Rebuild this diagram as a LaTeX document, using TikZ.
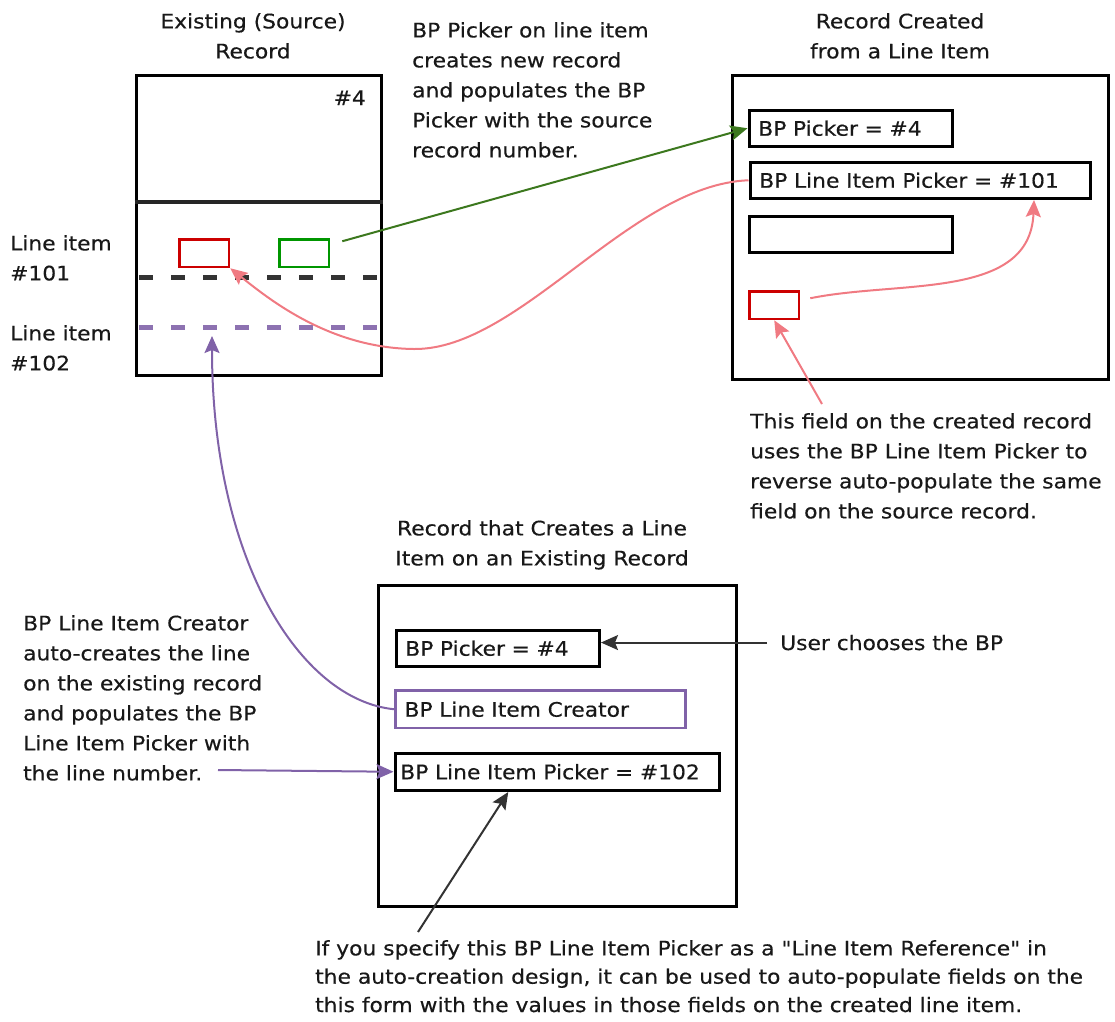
\documentclass[tikz,border=0pt]{standalone}
\usepackage{fontspec}
\newfontfamily\diafont[FakeStretch=1.09, FakeBold=0.4]{DejaVu Sans}
\usepackage{tikz}
\usetikzlibrary{arrows.meta, positioning}

\definecolor{pinkline}{RGB}{240,122,130}
\definecolor{purpleline}{RGB}{128,98,168}
\definecolor{greenbox}{RGB}{0,150,0}
\definecolor{greenline}{RGB}{60,120,30}
\definecolor{redbox}{RGB}{204,0,0}
\definecolor{textgray}{RGB}{24,24,24}
\definecolor{arrowgray}{RGB}{51,51,51}

\tikzset{
  record/.style={draw, line width=3.5pt, anchor=north west, inner sep=0pt},
  field/.style={draw, line width=3.5pt, anchor=north west, inner xsep=9pt, inner ysep=0pt,
    minimum height=36pt, align=left, text width=#1},
  tag/.style={draw=redbox, line width=2.5pt, anchor=north west, inner sep=0pt,
    minimum width=49.5pt, minimum height=27.5pt},
  note/.style={align=left, anchor=north west, inner sep=0pt},
  title/.style={align=center, anchor=north, inner sep=0pt},
  linkline/.style={line width=2pt, ->},
}

\begin{document}
\begin{tikzpicture}[x=1pt, y=-1pt, font=\diafont\fontsize{20}{30}\selectfont, text=textgray,
    >={Stealth[length=17pt, width=15pt, inset=3pt]}]
  \useasboundingbox (0,0) rectangle (1115,1021);

  %既存レコード
  \node[title] (srctitle) at (253,13) {Existing (Source)\\Record};
  \node[record, minimum width=245pt, minimum height=300pt] (src) at (134.5,73.5) {};
  \draw[line width=3.5pt, black!85] (src.west |- 0,202) -- (src.east |- 0,202);
  \node[anchor=base east, inner sep=0pt] (srcno) at (366,105) {\#4};
  \node[tag] (srcref) at (178.25,238.25) {};
  \node[tag, draw=greenbox] (srcpick) at (278.25,238.25) {};
  \draw[line width=5pt, black!80, dash pattern=on 14pt off 18pt] (139,277) -- (377,277); %点線
  \draw[line width=5pt, purpleline!90, dash pattern=on 14pt off 18pt] (139,327) -- (377,327);
  \coordinate (line102) at (212,336);
  \node[note] (li101) at (10,235) {Line item\\\#101};
  \node[note] (li102) at (10,325) {Line item\\\#102};

  %作成されたレコード
  \node[title] (newtitle) at (900,13) {Record Created\\from a Line Item};
  \node[record, minimum width=376pt, minimum height=304pt] (new) at (730.5,73.5) {};
  \node[field=185pt] (rpick) at (747.5,108.5) {BP Picker = \#4};
  \node[field=322pt] (rline) at (748.5,160.5) {BP Line Item Picker = \#101};
  \node[field=185pt] (rblank) at (747.5,214.5) {};
  \node[tag] (rtag) at (748.25,290.25) {};

  %明細を作成するレコード
  \node[title] (crtitle) at (542,520) {Record that Creates a Line\\Item on an Existing Record};
  \node[record, minimum width=358pt, minimum height=321pt] (cr) at (376.5,583.5) {};
  \node[field=185pt] (bpick) at (394.5,628.5) {BP Picker = \#4};
  \node[field=272pt, draw=purpleline, line width=2.5pt, minimum height=37.5pt] (bcreator) at (394.25,689.25) {BP Line Item Creator};
  \node[field=314pt, inner xsep=5pt, minimum height=37pt] (bline) at (393.5,751.5) {BP Line Item Picker = \#102};

  %説明
  \node[note] (topnote) at (412,22) {BP Picker on line item\\creates new record\\and populates the BP\\Picker with the source\\record number.};
  \node[note] (rnote) at (750,413) {This field on the created record\\uses the BP Line Item Picker to\\reverse auto-populate the same\\field on the source record.};
  \node[note] (lnote) at (23,615) {BP Line Item Creator\\auto-creates the line\\on the existing record\\and populates the BP\\Line Item Picker with\\the line number.};
  \node[anchor=base west, inner sep=0pt] (user) at (780,650) {User chooses the BP};
  \node[note, font=\diafont\fontsize{20}{28.3}\selectfont] (bnote) at (315,940) {If you specify this BP Line Item Picker as a "Line Item Reference" in\\the auto-creation design, it can be used to auto-populate fields on the\\this form with the values in those fields on the created line item.};
  \coordinate (rnotetop) at (822,404);
  \coordinate (lnoteend) at (218,770);
  \coordinate (bnotetop) at (418,932);

  %矢印
  \draw[linkline, greenline] ([xshift=12pt, yshift=12pt]srcpick.east) -- (rpick.west);
  \draw[linkline, pinkline] (rline.west) .. controls (630,185) and (520,350) .. (414,349)
    .. controls (330,348) and (270,300) .. (srcref.south east);
  \draw[linkline, pinkline] ([xshift=10pt, yshift=7pt]rtag.east) .. controls (900,280) and (1030,300) .. ([xshift=-58pt]rline.south east);
  \draw[linkline, pinkline] (rnotetop) -- (rtag.south);
  \draw[linkline, purpleline] (bcreator.west) .. controls (300,700) and (212,560) .. (line102);
  \draw[linkline, purpleline] (lnoteend) -- (bline.west);
  \draw[linkline, arrowgray] ([xshift=-13pt]user.west) -- (bpick.east |- user.west);
  \draw[linkline, arrowgray] (bnotetop) -- ([xshift=-49pt]bline.south);
\end{tikzpicture}
\end{document}
